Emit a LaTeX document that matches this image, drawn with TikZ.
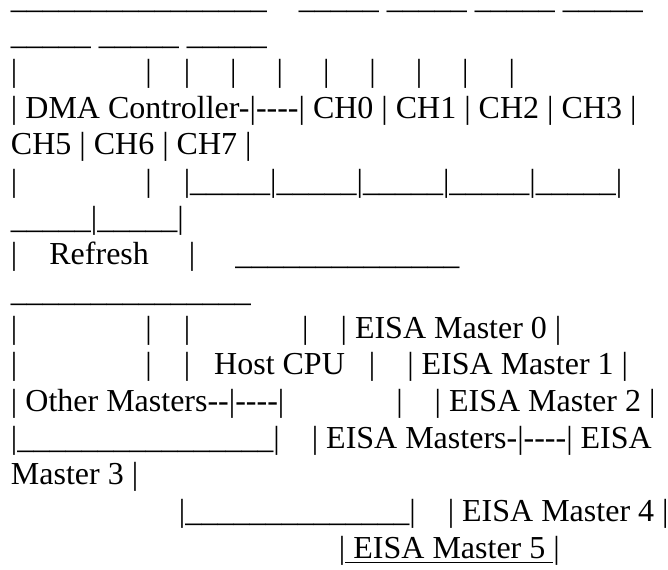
\documentclass[tikz,border=0pt]{standalone}
\usepackage{fontspec}
\newfontfamily\asciifont{Liberation Serif}
\ExplSyntaxOn
\NewDocumentCommand\rep{mm}{\prg_replicate:nn{#1}{#2}}
\ExplSyntaxOff
% runs of blanks, underscores and hyphens (hyphens kept apart so they never join into dashes)
\newcommand\sps[1]{\rep{#1}{\ }}
\newcommand\uss[1]{\rep{#1}{\_}}
\newcommand\hys[1]{\rep{#1}{-\kern0pt}}
% underlined stretch of text
\newcommand\ulseg[1]{\setbox0\hbox{#1}\rlap{\rule[-4.1pt]{\wd0}{1.1pt}}\box0}
\tikzset{
  asciiline/.style={anchor=base west, inner sep=0pt, outer sep=0pt,
    font=\asciifont\fontsize{24pt}{27.5pt}\selectfont}
}
\begin{document}
\begin{tikzpicture}[x=0.75pt,y=-0.75pt]
\useasboundingbox[fill=white] (0,0) rectangle (668,569);
\node[asciiline] (l1)  at (11,8)      {\uss{16}\sps{4}\uss{5}\ \uss{5}\ \uss{5}\ \uss{5}};
\node[asciiline] (l2)  at (11,44.67)  {\uss{5}\ \uss{5}\ \uss{5}};
\node[asciiline] (l3)  at (11,81.33)  {|\sps{16}|\sps{4}|\rep{7}{\sps{5}|}};
\node[asciiline] (l4)  at (11,118)    {| DMA Controller-|\hys{4}| CH0 | CH1 | CH2 | CH3 |};
\node[asciiline] (l5)  at (11,154.67) {CH5 | CH6 | CH7 |};
\node[asciiline] (l6)  at (11,191.33) {|\sps{16}|\sps{4}|\rep{5}{\uss{5}|}};
\node[asciiline] (l7)  at (11,228)    {\rep{2}{\uss{5}|}};
\node[asciiline] (l8)  at (11,264.67) {|\sps{4}Refresh\sps{5}|\sps{5}\uss{14}};
\node[asciiline] (l9)  at (11,301.33) {\uss{15}};
\node[asciiline] (l10) at (11,338)    {|\sps{16}|\sps{4}|\sps{14}|\sps{4}| EISA Master 0 |};
\node[asciiline] (l11) at (11,374.67) {|\sps{16}|\sps{4}|\sps{3}Host CPU\sps{3}|\sps{4}| EISA Master 1 |};
\node[asciiline] (l12) at (11,411.33) {| Other Masters\hys{2}|\hys{4}|\sps{14}|\sps{4}| EISA Master 2 |};
\node[asciiline] (l13) at (11,448)    {|\uss{16}|\sps{4}| EISA Masters-|\hys{4}| EISA};
\node[asciiline] (l14) at (11,484.67) {Master 3 |};
\node[asciiline] (l15) at (11,521.33) {\sps{21}|\uss{14}|\sps{4}| EISA Master 4 |};
\node[asciiline] (l16) at (11,558)    {\sps{41}|\ulseg{\ EISA Master 5\ }|};
\end{tikzpicture}
\end{document}
